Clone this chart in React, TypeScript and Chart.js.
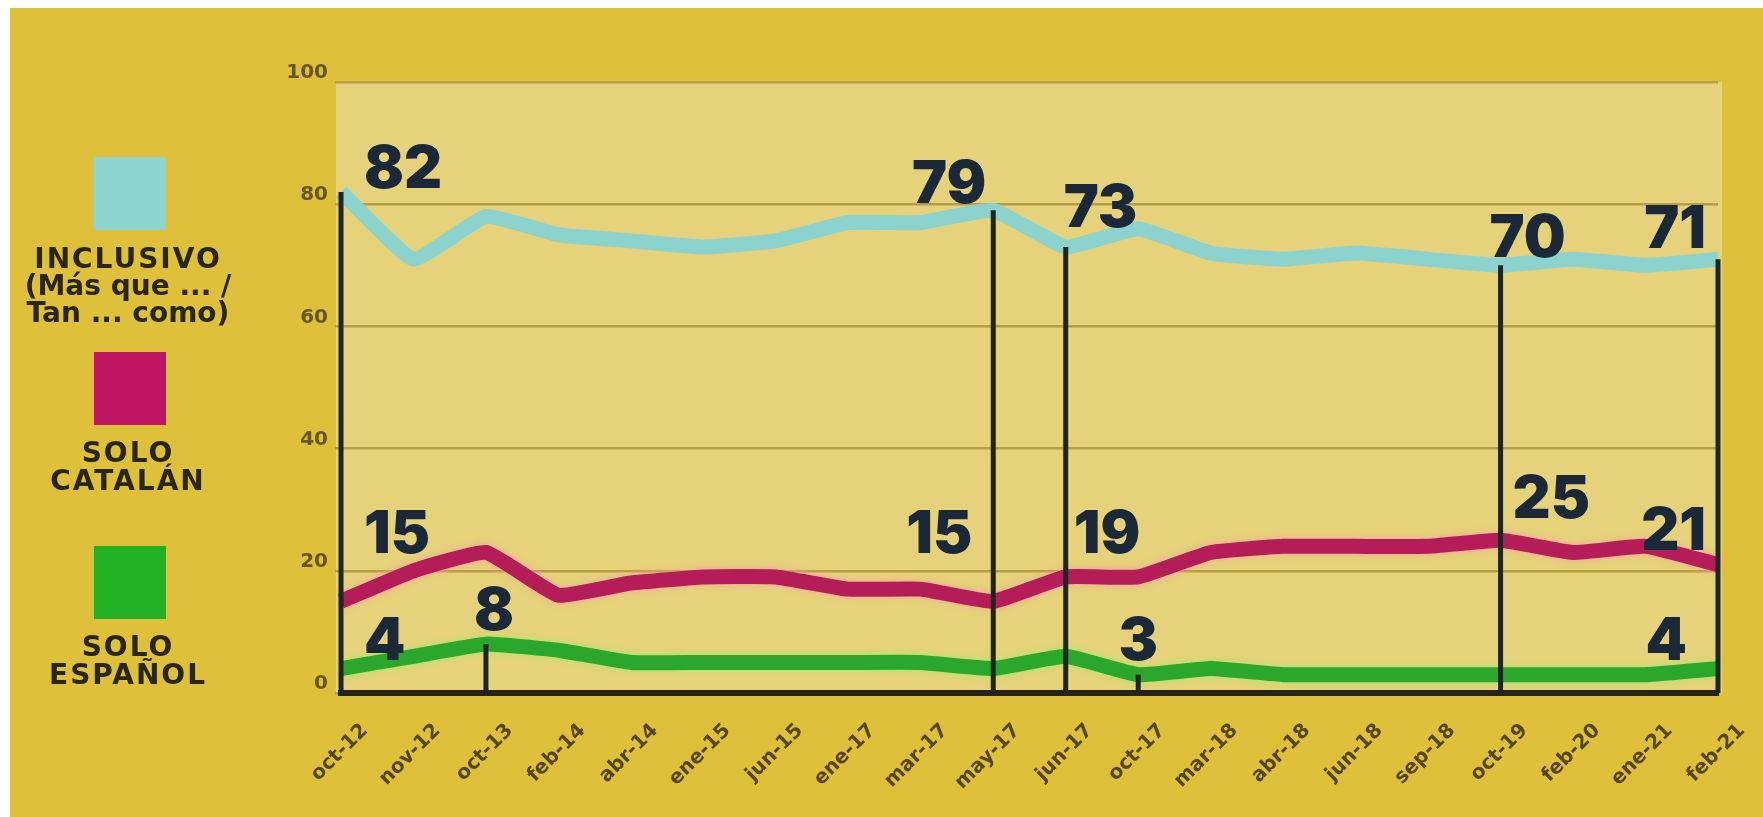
import React, { useEffect, useRef } from "react";
import { Chart, registerables } from "chart.js";

Chart.register(...registerables);

// ---- data ----
const categories = [
  "oct-12", "nov-12", "oct-13", "feb-14", "abr-14", "ene-15", "jun-15", "ene-17", "mar-17", "may-17",
  "jun-17", "oct-17", "mar-18", "abr-18", "jun-18", "sep-18", "oct-19", "feb-20", "ene-21", "feb-21",
];
const inclusivo = [82, 71, 78, 75, 74, 73, 74, 77, 77, 79, 73, 76, 72, 71, 72, 71, 70, 71, 70, 71];
const soloCatalan = [15, 20, 23, 16, 18, 19, 19, 17, 17, 15, 19, 19, 23, 24, 24, 24, 25, 23, 24, 21];
const soloEspanol = [4, 6, 8, 7, 5, 5, 5, 5, 5, 4, 6, 3, 4, 3, 3, 3, 3, 3, 3, 4];
const yTicks = [0, 20, 40, 60, 80, 100];
const seriesNames = [
  ["INCLUSIVO", "(Más que ... /", "Tan ... como)"],
  ["SOLO", "CATALÁN"],
  ["SOLO", "ESPAÑOL"],
];
// highlighted points: [series, category index]
const dropPoints = [[0, 0], [2, 2], [0, 9], [0, 10], [2, 11], [0, 16], [0, 19]];

// ---- styles ----
const OUTER_BG = "#dfc03a";
const PLOT_BG = "#e5d27a";
const lineColors = ["#8dd3cd", "#b51d59", "#2ba72b"];
const glowColors = [null, "#f3a3a0", "#a6ea6c"];
const legendColors = ["#8dd4d1", "#c01563", "#22b024"];
const LABEL_COLOR = "#1b2838";

// value label placement (offsets relative to the point)
const valueLabels = [
  { s: 0, i: 0, align: "left", dx: 23, dy: -4 },
  { s: 0, i: 9, align: "right", dx: -7, dy: -7 },
  { s: 0, i: 10, align: "left", dx: -2, dy: -20 },
  { s: 0, i: 16, align: "left", dx: -11, dy: -8 },
  { s: 0, i: 19, align: "right", dx: -12, dy: -11 },
  { s: 1, i: 0, align: "left", dx: 23, dy: -48 },
  { s: 1, i: 9, align: "right", dx: -21, dy: -48 },
  { s: 1, i: 10, align: "left", dx: 8, dy: -24 },
  { s: 1, i: 16, align: "left", dx: 12, dy: -22 },
  { s: 1, i: 19, align: "right", dx: -12, dy: -15 },
  { s: 2, i: 0, align: "left", dx: 23, dy: -9 },
  { s: 2, i: 2, align: "center", dx: 8, dy: -14 },
  { s: 2, i: 11, align: "center", dx: 0, dy: -15 },
  { s: 2, i: 19, align: "right", dx: -31, dy: -9 },
];

const legendLayout = [
  { squareTop: 149, textTop: 237, lineHeight: 27 },
  { squareTop: 344, textTop: 431, lineHeight: 28 },
  { squareTop: 538, textTop: 625, lineHeight: 28 },
];

const bgPlugin = {
  id: "bgPlugin",
  beforeDraw(chart: any) {
    const { ctx, chartArea: a, width, height } = chart;
    ctx.save();
    ctx.fillStyle = OUTER_BG;
    ctx.fillRect(0, 0, width, height);
    ctx.fillStyle = PLOT_BG;
    ctx.fillRect(a.left - 5, a.top, a.right - a.left + 9, a.bottom - a.top);
    ctx.restore();
  },
};

const glowPlugin = {
  id: "glowPlugin",
  beforeDatasetDraw(chart: any, args: any) {
    const g = glowColors[args.index];
    if (g) {
      chart.ctx.save();
      chart.ctx.shadowColor = g;
      chart.ctx.shadowBlur = 7;
    }
  },
  afterDatasetDraw(chart: any, args: any) {
    if (glowColors[args.index]) chart.ctx.restore();
  },
};

const annotatePlugin = {
  id: "annotatePlugin",
  afterDatasetsDraw(chart: any) {
    const { ctx } = chart;
    const y0 = chart.scales.y.getPixelForValue(0);
    ctx.save();
    ctx.strokeStyle = "#1d2620";
    ctx.lineWidth = 5;
    ctx.lineCap = "butt";
    dropPoints.forEach(([s, i]) => {
      const pt = chart.getDatasetMeta(s).data[i];
      ctx.beginPath();
      ctx.moveTo(pt.x, y0);
      ctx.lineTo(pt.x, pt.y);
      ctx.stroke();
    });
    ctx.fillStyle = LABEL_COLOR;
    ctx.font = "900 59px Inter, 'DejaVu Sans', sans-serif";
    ctx.textBaseline = "alphabetic";
    valueLabels.forEach((l) => {
      const pt = chart.getDatasetMeta(l.s).data[l.i];
      const v = chart.data.datasets[l.s].data[l.i];
      ctx.textAlign = l.align;
      ctx.fillText(String(v), pt.x + l.dx, pt.y + l.dy);
    });
    ctx.restore();
  },
};

export default function App() {
  const canvasRef = useRef<HTMLCanvasElement | null>(null);

  useEffect(() => {
    if (!canvasRef.current) return;
    const series = [inclusivo, soloCatalan, soloEspanol];
    const chart = new Chart(canvasRef.current, {
      type: "line",
      data: {
        labels: categories,
        datasets: series.map((d, k) => ({
          label: seriesNames[k].join(" "),
          data: d,
          borderColor: lineColors[k],
          backgroundColor: lineColors[k],
          borderWidth: 15,
          tension: 0.12,
          pointRadius: 0,
          borderJoinStyle: "round" as const,
          borderCapStyle: "butt" as const,
          fill: false,
        })),
      },
      options: {
        animation: false,
        responsive: true,
        maintainAspectRatio: false,
        layout: { padding: { top: 74, right: 45, left: 0, bottom: 0 } },
        plugins: { legend: { display: false }, tooltip: { enabled: false } },
        scales: {
          x: {
            type: "category",
            offset: false,
            grid: { display: false, drawTicks: false },
            border: { display: true, color: "#26241a", width: 6 },
            ticks: {
              autoSkip: false,
              maxRotation: 45,
              minRotation: 45,
              color: "#56471a",
              font: { family: "'DejaVu Sans', sans-serif", weight: "bold", size: 20 },
              padding: 26,
              labelOffset: 24,
            },
            afterFit(s: any) {
              s.height = 124;
            },
          },
          y: {
            min: 0,
            max: 100,
            afterBuildTicks(s: any) {
              s.ticks = yTicks.map((v) => ({ value: v }));
            },
            grid: { color: "#b79d43", lineWidth: 2.5, drawTicks: true, tickLength: 6 },
            border: { display: false },
            ticks: {
              color: "#66572a",
              font: { family: "'DejaVu Sans', sans-serif", weight: "bold", size: 20 },
              padding: 7,
              labelOffset: -9,
            },
            afterFit(s: any) {
              s.width = 331;
            },
          },
        },
      },
      plugins: [bgPlugin, glowPlugin, annotatePlugin],
    });
    return () => chart.destroy();
  }, []);

  return (
    <div
      style={{
        position: "fixed",
        left: 10,
        top: 8,
        width: "calc(100vw - 10px)",
        height: "calc(100vh - 8px)",
        background: OUTER_BG,
        overflow: "hidden",
      }}
    >
      <canvas ref={canvasRef} style={{ position: "absolute", left: 0, top: 0, width: "100%", height: "100%" }} />
      {seriesNames.map((lines, k) => (
        <React.Fragment key={k}>
          <div
            style={{
              position: "absolute",
              left: 84,
              top: legendLayout[k].squareTop,
              width: 72,
              height: 73,
              background: legendColors[k],
            }}
          />
          <div
            style={{
              position: "absolute",
              left: 0,
              width: 236,
              top: legendLayout[k].textTop,
              textAlign: "center",
              fontFamily: "'DejaVu Sans', sans-serif",
              fontWeight: 700,
              fontSize: 28,
              lineHeight: legendLayout[k].lineHeight + "px",
              color: "#2a2614",
              whiteSpace: "nowrap",
            }}
          >
            {lines.map((t, j) => (
              <div key={j} style={{ letterSpacing: t === t.toUpperCase() ? 2 : 0 }}>
                {t}
              </div>
            ))}
          </div>
        </React.Fragment>
      ))}
    </div>
  );
}
